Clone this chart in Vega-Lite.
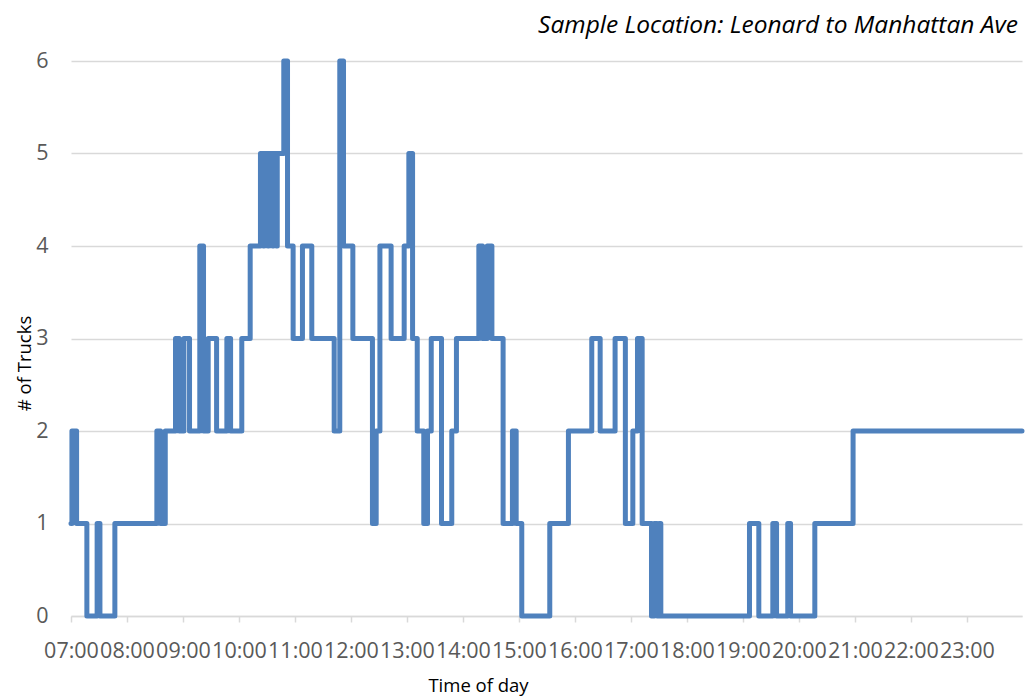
{
  "$schema": "https://vega.github.io/schema/vega-lite/v6.json",
  "width": 951,
  "height": 555,
  "autosize": "none",
  "padding": {"left": 71, "top": 61, "right": 11, "bottom": 80},
  "background": "white",
  "title": {"text": "Sample Location: Leonard to Manhattan Ave", "anchor": "end", "frame": "group", "font": "Open Sans", "fontSize": 24.5, "fontStyle": "italic", "fontWeight": "normal", "color": "#000000", "offset": 12, "dx": -4},
  "data": {
    "values": [
      {"time": "2012-01-01T07:00", "trucks": 1}, {"time": "2012-01-01T07:01", "trucks": 2}, {"time": "2012-01-01T07:06", "trucks": 1},
      {"time": "2012-01-01T07:17", "trucks": 0}, {"time": "2012-01-01T07:28", "trucks": 1}, {"time": "2012-01-01T07:31", "trucks": 0},
      {"time": "2012-01-01T07:47", "trucks": 1}, {"time": "2012-01-01T08:32", "trucks": 2}, {"time": "2012-01-01T08:36", "trucks": 1},
      {"time": "2012-01-01T08:41", "trucks": 2}, {"time": "2012-01-01T08:52", "trucks": 3}, {"time": "2012-01-01T08:56", "trucks": 2},
      {"time": "2012-01-01T09:01", "trucks": 3}, {"time": "2012-01-01T09:07", "trucks": 2}, {"time": "2012-01-01T09:18", "trucks": 4},
      {"time": "2012-01-01T09:22", "trucks": 2}, {"time": "2012-01-01T09:27", "trucks": 3}, {"time": "2012-01-01T09:36", "trucks": 2},
      {"time": "2012-01-01T09:47", "trucks": 3}, {"time": "2012-01-01T09:51", "trucks": 2}, {"time": "2012-01-01T10:03", "trucks": 3},
      {"time": "2012-01-01T10:12", "trucks": 4}, {"time": "2012-01-01T10:23", "trucks": 5}, {"time": "2012-01-01T10:26", "trucks": 4},
      {"time": "2012-01-01T10:27", "trucks": 5}, {"time": "2012-01-01T10:31", "trucks": 4}, {"time": "2012-01-01T10:32", "trucks": 5},
      {"time": "2012-01-01T10:36", "trucks": 4}, {"time": "2012-01-01T10:37", "trucks": 5}, {"time": "2012-01-01T10:40", "trucks": 4},
      {"time": "2012-01-01T10:41", "trucks": 5}, {"time": "2012-01-01T10:48", "trucks": 6}, {"time": "2012-01-01T10:52", "trucks": 4},
      {"time": "2012-01-01T10:58", "trucks": 3}, {"time": "2012-01-01T11:08", "trucks": 4}, {"time": "2012-01-01T11:18", "trucks": 3},
      {"time": "2012-01-01T11:42", "trucks": 2}, {"time": "2012-01-01T11:48", "trucks": 6}, {"time": "2012-01-01T11:52", "trucks": 4},
      {"time": "2012-01-01T12:02", "trucks": 3}, {"time": "2012-01-01T12:23", "trucks": 1}, {"time": "2012-01-01T12:27", "trucks": 2},
      {"time": "2012-01-01T12:31", "trucks": 4}, {"time": "2012-01-01T12:43", "trucks": 3}, {"time": "2012-01-01T12:57", "trucks": 4},
      {"time": "2012-01-01T13:02", "trucks": 5}, {"time": "2012-01-01T13:06", "trucks": 3}, {"time": "2012-01-01T13:11", "trucks": 2},
      {"time": "2012-01-01T13:18", "trucks": 1}, {"time": "2012-01-01T13:22", "trucks": 2}, {"time": "2012-01-01T13:26", "trucks": 3},
      {"time": "2012-01-01T13:37", "trucks": 1}, {"time": "2012-01-01T13:48", "trucks": 2}, {"time": "2012-01-01T13:53", "trucks": 3},
      {"time": "2012-01-01T14:17", "trucks": 4}, {"time": "2012-01-01T14:21", "trucks": 3}, {"time": "2012-01-01T14:26", "trucks": 4},
      {"time": "2012-01-01T14:31", "trucks": 3}, {"time": "2012-01-01T14:43", "trucks": 1}, {"time": "2012-01-01T14:53", "trucks": 2},
      {"time": "2012-01-01T14:57", "trucks": 1}, {"time": "2012-01-01T15:03", "trucks": 0}, {"time": "2012-01-01T15:33", "trucks": 1},
      {"time": "2012-01-01T15:53", "trucks": 2}, {"time": "2012-01-01T16:18", "trucks": 3}, {"time": "2012-01-01T16:27", "trucks": 2},
      {"time": "2012-01-01T16:43", "trucks": 3}, {"time": "2012-01-01T16:54", "trucks": 1}, {"time": "2012-01-01T17:02", "trucks": 2},
      {"time": "2012-01-01T17:07", "trucks": 3}, {"time": "2012-01-01T17:12", "trucks": 1}, {"time": "2012-01-01T17:22", "trucks": 0},
      {"time": "2012-01-01T17:25", "trucks": 1}, {"time": "2012-01-01T17:28", "trucks": 0}, {"time": "2012-01-01T17:30", "trucks": 1},
      {"time": "2012-01-01T17:32", "trucks": 0}, {"time": "2012-01-01T19:07", "trucks": 1}, {"time": "2012-01-01T19:17", "trucks": 0},
      {"time": "2012-01-01T19:32", "trucks": 1}, {"time": "2012-01-01T19:36", "trucks": 0}, {"time": "2012-01-01T19:48", "trucks": 1},
      {"time": "2012-01-01T19:51", "trucks": 0}, {"time": "2012-01-01T20:17", "trucks": 1}, {"time": "2012-01-01T20:58", "trucks": 2},
      {"time": "2012-01-01T23:59", "trucks": 2}
    ]
  },
  "mark": {"type": "line", "interpolate": "step-after", "color": "#4f81bd", "strokeWidth": 5, "strokeJoin": "round", "strokeCap": "round"},
  "encoding": {
    "x": {
      "field": "time",
      "type": "temporal",
      "scale": {"domain": [{"year": 2012, "month": 1, "date": 1, "hours": 7, "minutes": 0}, {"year": 2012, "month": 1, "date": 1, "hours": 23, "minutes": 59}]},
      "axis": {
        "title": "Time of day",
        "format": "%H:%M",
        "tickCount": 17,
        "labelOverlap": false,
        "labelBound": false,
        "labelFlush": false,
        "grid": false,
        "domainColor": "#d9d9d9",
        "domainWidth": 1.5,
        "tickColor": "#d9d9d9",
        "tickSize": 6,
        "tickWidth": 1.5,
        "labelColor": "#595959",
        "labelFont": "Open Sans",
        "labelFontSize": 21.5,
        "labelPadding": 18,
        "titleFont": "Open Sans",
        "titleFontSize": 18.5,
        "titleFontWeight": "normal",
        "titleColor": "#000000",
        "titleX": 407,
        "titleY": 69,
        "titleAlign": "center",
        "titleBaseline": "middle"
      }
    },
    "y": {
      "field": "trucks",
      "type": "quantitative",
      "scale": {"domain": [0, 6]},
      "axis": {
        "title": "# of Trucks",
        "values": [0, 1, 2, 3, 4, 5, 6],
        "grid": true,
        "gridColor": "#d9d9d9",
        "gridWidth": 1.5,
        "domain": false,
        "ticks": false,
        "labelColor": "#595959",
        "labelFont": "Open Sans",
        "labelFontSize": 21.5,
        "labelPadding": 23,
        "titleFont": "Open Sans",
        "titleFontSize": 18.5,
        "titleFontWeight": "normal",
        "titleColor": "#000000",
        "titleX": -47,
        "titleY": 302,
        "titleAngle": -90,
        "titleAlign": "center",
        "titleBaseline": "middle"
      }
    }
  },
  "config": {"view": {"stroke": null}}
}
